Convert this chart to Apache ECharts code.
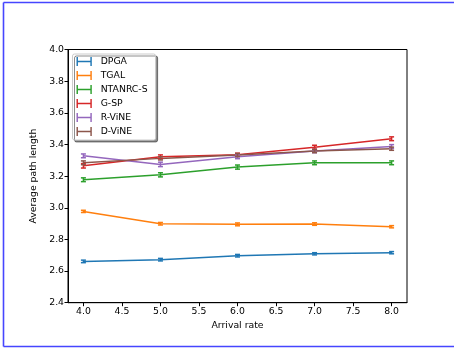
<!DOCTYPE html>
<html>
<head>
<meta charset="utf-8">
<script src="https://cdn.jsdelivr.net/npm/echarts@6/dist/echarts.min.js"></script>
<style>
  html, body { margin: 0; padding: 0; background: #fff; overflow: hidden; }
  #main { width: 454px; height: 349px; }
</style>
</head>
<body>
<div id="main"></div>
<script>
// arrival rates on the x axis
var rates = [4.0, 5.0, 6.0, 7.0, 8.0];
var names = ['DPGA', 'TGAL', 'NTANRC-S', 'G-SP', 'R-ViNE', 'D-ViNE'];
var colors = ['#1f77b4', '#ff7f0e', '#2ca02c', '#d62728', '#9467bd', '#8c564b'];

// mean path length per algorithm
var dpga    = [2.661, 2.672, 2.697, 2.709, 2.716];
var tgal    = [2.977, 2.899, 2.895, 2.897, 2.880];
var ntanrc  = [3.177, 3.208, 3.257, 3.284, 3.284];
var gsp     = [3.265, 3.322, 3.335, 3.383, 3.436];
var rvine   = [3.328, 3.274, 3.322, 3.358, 3.387];
var dvine   = [3.284, 3.312, 3.333, 3.358, 3.373];
// half width of the error bars
var dpgaErr   = [0.008, 0.008, 0.008, 0.007, 0.007];
var tgalErr   = [0.007, 0.008, 0.009, 0.008, 0.007];
var ntanrcErr = [0.012, 0.013, 0.013, 0.012, 0.012];
var gspErr    = [0.014, 0.012, 0.010, 0.012, 0.012];
var rvineErr  = [0.012, 0.014, 0.012, 0.010, 0.012];
var dvineErr  = [0.012, 0.010, 0.010, 0.010, 0.010];

var xTicks = [4.0, 4.5, 5.0, 5.5, 6.0, 6.5, 7.0, 7.5, 8.0];

var allVals = [dpga, tgal, ntanrc, gsp, rvine, dvine];
var allErrs = [dpgaErr, tgalErr, ntanrcErr, gspErr, rvineErr, dvineErr];

var FONT = 'DejaVu Sans';
var chart = echarts.init(document.getElementById('main'), null, { renderer: 'canvas' });

var series = [];
names.forEach(function (n, k) {
  series.push({
    name: n,
    type: 'line',
    symbol: 'none',
    color: colors[k],
    lineStyle: { width: 1.5, color: colors[k] },
    data: rates.map(function (r, i) { return [r, allVals[k][i]]; }),
    z: 2
  });
  // error bars with caps
  series.push({
    name: n,
    type: 'custom',
    color: colors[k],
    data: rates.map(function (r, i) { return [r, allVals[k][i] - allErrs[k][i], allVals[k][i] + allErrs[k][i]]; }),
    renderItem: function (params, api) {
      var lo = api.coord([api.value(0), api.value(1)]);
      var hi = api.coord([api.value(0), api.value(2)]);
      var c = 2.5;
      var st = { stroke: colors[k], lineWidth: 1.5, fill: null };
      return {
        type: 'group',
        children: [
          { type: 'line', shape: { x1: lo[0], y1: lo[1], x2: hi[0], y2: hi[1] }, style: st },
          { type: 'line', shape: { x1: lo[0] - c, y1: lo[1], x2: lo[0] + c, y2: lo[1] }, style: st },
          { type: 'line', shape: { x1: hi[0] - c, y1: hi[1], x2: hi[0] + c, y2: hi[1] }, style: st }
        ]
      };
    },
    encode: { x: 0, y: [1, 2] },
    z: 3
  });
});

var errIcon = 'path://M0,0h1.6v10h-1.6z M0,4.2h17v1.6h-17z M15.4,0h1.6v10h-1.6z';
var frameStyle = { stroke: '#4646ff', lineWidth: 1.6 };

var option = {
  animation: false,
  backgroundColor: '#fff',
  grid: {
    left: 68, right: 47, top: 49.5, bottom: 46.3,
    show: true, borderColor: '#000', borderWidth: 1, backgroundColor: 'transparent'
  },
  legend: {
    orient: 'vertical',
    left: 72.5, top: 54,
    padding: [3, 8, 4, 4],
    itemWidth: 17, itemHeight: 9, itemGap: 5,
    backgroundColor: '#fff',
    borderColor: '#cccccc', borderWidth: 1, borderRadius: 2,
    shadowColor: 'rgba(0,0,0,0.45)', shadowBlur: 0.5, shadowOffsetX: 2, shadowOffsetY: 2,
    textStyle: { fontFamily: FONT, fontSize: 9.3, color: '#000', padding: [0, 0, 0, 3] },
    data: names.map(function (n, k) {
      return { name: n, icon: errIcon, itemStyle: { color: colors[k] } };
    })
  },
  xAxis: {
    type: 'value',
    min: 3.8, max: 8.2,
    name: 'Arrival rate',
    nameLocation: 'middle', nameGap: 18,
    nameTextStyle: { fontFamily: FONT, fontSize: 9.3, color: '#000' },
    axisLine: { show: true, onZero: false, lineStyle: { color: '#000', width: 1 } },
    axisTick: { show: true, customValues: xTicks, length: 3.5, lineStyle: { color: '#000' } },
    axisLabel: {
      customValues: xTicks, fontFamily: FONT, fontSize: 9.3, color: '#000', margin: 4,
      formatter: function (v) { return v.toFixed(1); }
    },
    splitLine: { show: false }
  },
  yAxis: {
    type: 'value',
    min: 2.4, max: 4.0, interval: 0.2,
    name: 'Average path length',
    nameLocation: 'middle', nameGap: 24,
    nameTextStyle: { fontFamily: FONT, fontSize: 9.3, color: '#000' },
    axisLine: { show: true, onZero: false, lineStyle: { color: '#000', width: 1 } },
    axisTick: { show: true, length: 3.5, lineStyle: { color: '#000' } },
    axisLabel: {
      fontFamily: FONT, fontSize: 9.3, color: '#000', margin: 4,
      formatter: function (v) { return v.toFixed(1); }
    },
    splitLine: { show: false }
  },
  // blue frame: left, top and bottom edges only
  graphic: [
    { type: 'line', shape: { x1: 3.5, y1: 2.5, x2: 454, y2: 2.5 }, style: frameStyle, silent: true, z: 100 },
    { type: 'line', shape: { x1: 3.5, y1: 2.5, x2: 3.5, y2: 346.5 }, style: frameStyle, silent: true, z: 100 },
    { type: 'line', shape: { x1: 3.5, y1: 346.5, x2: 454, y2: 346.5 }, style: frameStyle, silent: true, z: 100 }
  ],
  series: series
};

chart.setOption(option);
</script>
</body>
</html>
